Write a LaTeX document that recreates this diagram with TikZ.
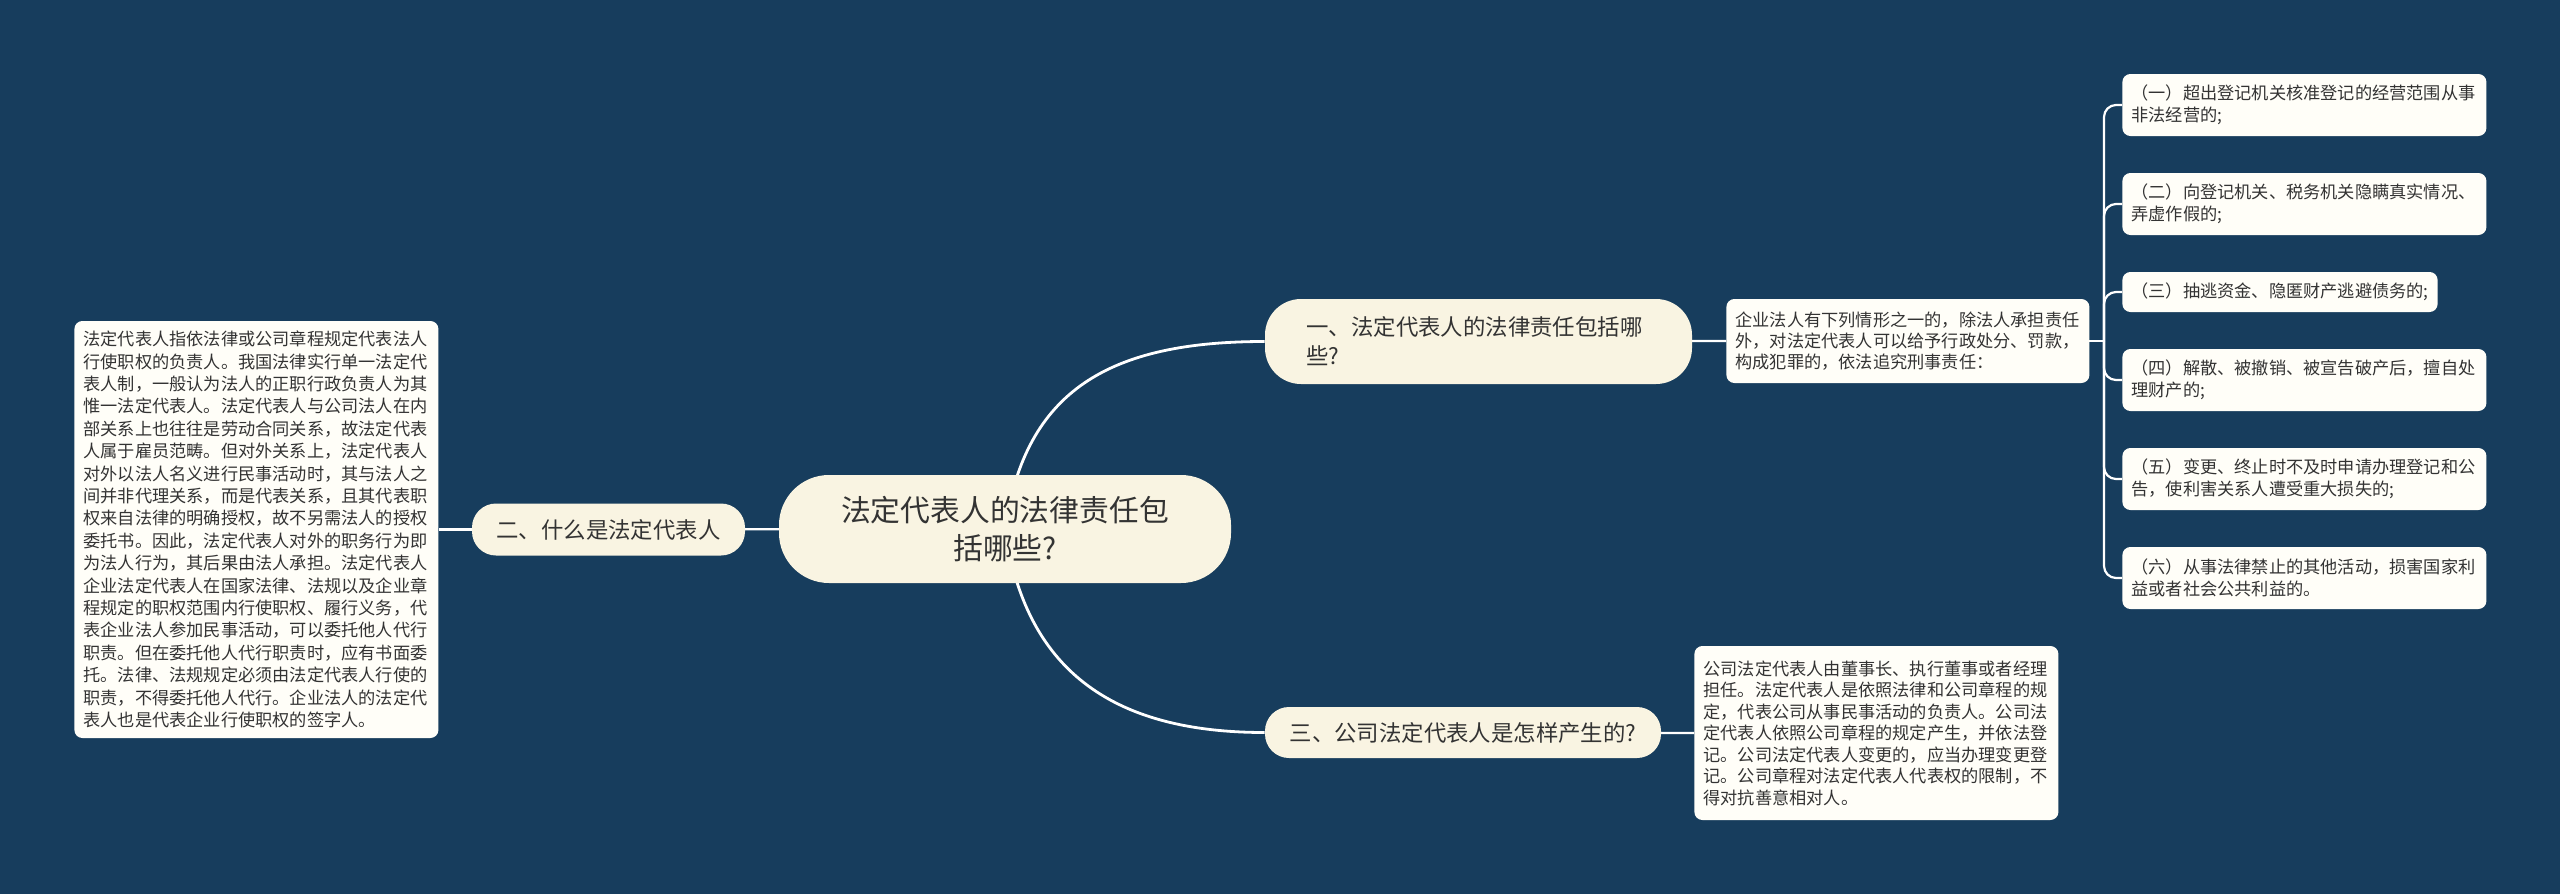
\documentclass[tikz,border=0pt]{standalone}
\usepackage{fontspec}
\newfontfamily\cjk{Noto Sans CJK SC}
\definecolor{bgc}{RGB}{23,61,93}
\definecolor{rootfill}{RGB}{249,244,226}
\definecolor{boxfill}{RGB}{255,254,248}
\definecolor{txt}{RGB}{51,51,51}
\pgfdeclarelayer{bg}
\pgfsetlayers{bg,main}
\begin{document}
\begin{tikzpicture}[x=0.5pt,y=-0.5pt,
  conn/.style={draw=white,line width=1.1pt},
  thickconn/.style={draw=white,line width=1.4pt},
  rootbox/.style={fill=rootfill,text=txt,rounded corners=25pt,inner sep=0pt,
    minimum width=226pt,minimum height=54pt,align=center,
    font=\cjk\fontsize{14.9pt}{19pt}\selectfont},
  branchbox/.style={fill=rootfill,text=txt,inner sep=0pt,
    font=\cjk\fontsize{11.2pt}{14.5pt}\selectfont},
  textbox/.style={fill=boxfill,text=txt,rounded corners=4pt,align=left,
    inner xsep=4.5pt,inner ysep=0pt,anchor=west,
    font=\cjk\fontsize{8.6pt}{11pt}\selectfont},
  leafbox/.style={textbox,minimum height=31pt}
]
\begin{pgfonlayer}{bg}
\fill[bgc] (0,0) rectangle (2560,894);
\end{pgfonlayer}
\useasboundingbox (0,0) rectangle (2560,894);

% root
\node[rootbox] (root) at (1005,529) {法定代表人的法律责任包\\括哪些?};

% branches
\node[branchbox,rounded corners=18pt,minimum width=213.5pt,minimum height=42.5pt,
  text width=172pt,inner xsep=20.75pt,align=left] (br1) at (1478.5,341.5)
  {一、法定代表人的法律责任包括哪\\些?};
\node[branchbox,rounded corners=12pt,minimum width=136.5pt,minimum height=26pt]
  (br2) at (608.5,529.5) {二、什么是法定代表人};
\node[branchbox,rounded corners=12pt,minimum width=198pt,minimum height=25.5pt]
  (br3) at (1463,732.5) {三、公司法定代表人是怎样产生的?};

% left text
\node[textbox,text width=173pt,minimum height=208.5pt,
  font=\cjk\fontsize{8.6pt}{11.2pt}\selectfont] (lbox) at (74,529.5)
 {法定代表人指依法律或公司章程规定代表法人\\
  行使职权的负责人。我国法律实行单一法定代\\
  表人制，一般认为法人的正职行政负责人为其\\
  惟一法定代表人。法定代表人与公司法人在内\\
  部关系上也往往是劳动合同关系，故法定代表\\
  人属于雇员范畴。但对外关系上，法定代表人\\
  对外以法人名义进行民事活动时，其与法人之\\
  间并非代理关系，而是代表关系，且其代表职\\
  权来自法律的明确授权，故不另需法人的授权\\
  委托书。因此，法定代表人对外的职务行为即\\
  为法人行为，其后果由法人承担。法定代表人\\
  企业法定代表人在国家法律、法规以及企业章\\
  程规定的职权范围内行使职权、履行义务，代\\
  表企业法人参加民事活动，可以委托他人代行\\
  职责。但在委托他人代行职责时，应有书面委\\
  托。法律、法规规定必须由法定代表人行使的\\
  职责，不得委托他人代行。企业法人的法定代\\
  表人也是代表企业行使职权的签字人。};

% right text boxes
\node[textbox,text width=172.5pt,minimum height=42pt,
  font=\cjk\fontsize{8.6pt}{10.6pt}\selectfont] (b1) at (1726,341)
 {企业法人有下列情形之一的，除法人承担责任\\
  外，对法定代表人可以给予行政处分、罚款，\\
  构成犯罪的，依法追究刑事责任：};
\node[textbox,text width=173pt,minimum height=87pt,
  font=\cjk\fontsize{8.6pt}{10.75pt}\selectfont] (b3) at (1694,733)
 {公司法定代表人由董事长、执行董事或者经理\\
  担任。法定代表人是依照法律和公司章程的规\\
  定，代表公司从事民事活动的负责人。公司法\\
  定代表人依照公司章程的规定产生，并依法登\\
  记。公司法定代表人变更的，应当办理变更登\\
  记。公司章程对法定代表人代表权的限制，不\\
  得对抗善意相对人。};

% leaves
\node[leafbox,text width=173pt] (l1) at (2122,105)
 {（一）超出登记机关核准登记的经营范围从事\\非法经营的;};
\node[leafbox,text width=173pt] (l2) at (2122,204)
 {（二）向登记机关、税务机关隐瞒真实情况、\\弄虚作假的;};
\node[textbox,minimum height=20pt] (l3) at (2122,292)
 {（三）抽逃资金、隐匿财产逃避债务的;};
\node[leafbox,text width=173pt] (l4) at (2122,380)
 {（四）解散、被撤销、被宣告破产后，擅自处\\理财产的;};
\node[leafbox,text width=173pt] (l5) at (2122,479)
 {（五）变更、终止时不及时申请办理登记和公\\告，使利害关系人遭受重大损失的;};
\node[leafbox,text width=173pt] (l6) at (2122,578)
 {（六）从事法律禁止的其他活动，损害国家利\\益或者社会公共利益的。};

\coordinate (bus) at (2104,341);

\begin{pgfonlayer}{bg}
\draw[thickconn] (root.center) .. controls +(20,-139) and +(-155,0) .. (br1.west);
\draw[thickconn] (root.center) .. controls +(20,139) and +(-155,0) .. (br3.west);
\draw[conn] (root.center) -- (br2.center);
\draw[conn] (br2.center) -- (lbox.east);
\draw[conn] (br1.center) -- (b1.west);
\draw[conn] (br3.center) -- (b3.west);
\draw[conn] (b1.center) -- (bus);
\foreach \l in {l1,l2,l3,l4,l5,l6}
  \draw[conn,rounded corners=6pt] (bus) |- (\l.west);
\end{pgfonlayer}
\end{tikzpicture}
\end{document}
